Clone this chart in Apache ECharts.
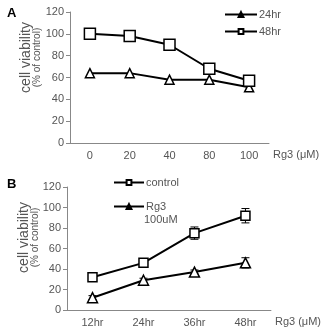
<!DOCTYPE html>
<html>
<head>
<meta charset="utf-8">
<script src="https://cdn.jsdelivr.net/npm/echarts@6/dist/echarts.min.js"></script>
<style>
html,body{margin:0;padding:0;background:#fff}
#main{width:322px;height:328px}
</style>
</head>
<body>
<div id="main"></div>
<script>
// panel A: dose
var doseCats = ['0', '20', '40', '80', '100'];
var hr24 = [64, 64, 58, 58, 51];
var hr48 = [100, 98, 90, 68, 57];
// panel B: time
var timeCats = ['12hr', '24hr', '36hr', '48hr'];
var control = [32, 46, 75, 92];
var controlErr = [2, 2, 6, 7];
var rg3 = [12, 29, 37, 46];
var rg3Err = [2, 2, 2, 5];

var font = 'Liberation Sans';
var grey = '#555';

function errBars(xIdx, yIdx, vals, errs) {
    var data = [];
    for (var i = 0; i < vals.length; i++) data.push([i, vals[i] - errs[i], vals[i] + errs[i]]);
    return {
        type: 'custom', xAxisIndex: xIdx, yAxisIndex: yIdx, z: 1,
        data: data,
        renderItem: function (params, api) {
            var lo = api.coord([api.value(0), api.value(1)]);
            var hi = api.coord([api.value(0), api.value(2)]);
            var w = 4;
            var st = {stroke: '#000', lineWidth: 1};
            return {type: 'group', children: [
                {type: 'line', shape: {x1: lo[0], y1: lo[1], x2: hi[0], y2: hi[1]}, style: st},
                {type: 'line', shape: {x1: lo[0] - w, y1: lo[1], x2: lo[0] + w, y2: lo[1]}, style: st},
                {type: 'line', shape: {x1: hi[0] - w, y1: hi[1], x2: hi[0] + w, y2: hi[1]}, style: st}
            ]};
        }
    };
}

function yAxis(gi, gap, shift) {
    return {
        type: 'value', gridIndex: gi, min: 0, max: 120, interval: 20,
        name: '{a|cell viability}\n{b|(% of control)}',
        nameLocation: 'middle', nameGap: gap, nameRotate: 90, nameMoveOverlap: false,
        nameTextStyle: {padding: [0, 0, 0, shift], rich: {
            a: {fontFamily: font, fontSize: 14, color: grey, lineHeight: 12},
            b: {fontFamily: font, fontSize: 10, color: grey, lineHeight: 10}
        }},
        axisLine: {show: true, lineStyle: {color: '#888'}},
        axisTick: {show: true, length: 4, lineStyle: {color: '#888'}},
        splitLine: {show: false},
        axisLabel: {fontFamily: font, fontSize: 11, color: grey, margin: 6}
    };
}

function xAxis(gi, cats) {
    return {
        type: 'category', gridIndex: gi, data: cats,
        name: 'Rg3 (μM)', nameLocation: 'end', nameGap: 4,
        nameTextStyle: {fontFamily: font, fontSize: 11, color: grey, verticalAlign: 'top', padding: [6, 0, 0, 0]},
        axisLine: {lineStyle: {color: '#888'}},
        axisTick: {length: 4, lineStyle: {color: '#888'}},
        axisLabel: {fontFamily: font, fontSize: 11, color: grey, margin: 7}
    };
}

var lineStyle = {color: '#000', width: 2};
var sym = {color: '#fff', borderColor: '#000', borderWidth: 1.5};

var option = {
    animation: false,
    title: [
        {text: 'A', left: 2, top: 2, textStyle: {fontFamily: font, fontSize: 13, fontWeight: 'bold', color: '#000'}},
        {text: 'B', left: 2, top: 173, textStyle: {fontFamily: font, fontSize: 13, fontWeight: 'bold', color: '#000'}}
    ],
    grid: [
        {left: 70, right: 53, top: 12, bottom: 185},
        {left: 67, right: 51, top: 187, bottom: 16}
    ],
    xAxis: [xAxis(0, doseCats), xAxis(1, timeCats)],
    yAxis: [yAxis(0, 28, 40), yAxis(1, 27, 22)],
    legend: [
        {
            orient: 'vertical', left: 224, top: 9, padding: 0, itemWidth: 32, itemHeight: 6, itemGap: 6,
            textStyle: {fontFamily: font, fontSize: 11, color: grey, padding: [0, 0, 0, -3]},
            data: [
                {name: '24hr', itemStyle: {color: '#000', borderColor: '#000'}},
                {name: '48hr', itemStyle: {color: '#fff', borderColor: '#000'}}
            ]
        },
        {
            orient: 'vertical', left: 113, top: 177, padding: 0, itemWidth: 30, itemHeight: 6, itemGap: 13,
            textStyle: {fontFamily: font, fontSize: 11, color: grey, padding: [0, 0, 0, -3]},
            data: [
                {name: 'control', itemStyle: {color: '#fff', borderColor: '#000'}},
                {name: 'Rg3', itemStyle: {color: '#000', borderColor: '#000'}}
            ]
        }
    ],
    graphic: [
        {type: 'text', left: 144, top: 214, style: {text: '100uM', fontFamily: font, fontSize: 11, fill: grey}}
    ],
    series: [
        {name: '24hr', type: 'line', xAxisIndex: 0, yAxisIndex: 0, data: hr24,
            symbol: 'triangle', symbolSize: 9, lineStyle: lineStyle, itemStyle: sym},
        {name: '48hr', type: 'line', xAxisIndex: 0, yAxisIndex: 0, data: hr48,
            symbol: 'rect', symbolSize: 11, lineStyle: lineStyle, itemStyle: sym},
        errBars(1, 1, control, controlErr),
        errBars(1, 1, rg3, rg3Err),
        {name: 'control', type: 'line', xAxisIndex: 1, yAxisIndex: 1, data: control, z: 3,
            symbol: 'rect', symbolSize: 9, lineStyle: lineStyle, itemStyle: sym},
        {name: 'Rg3', type: 'line', xAxisIndex: 1, yAxisIndex: 1, data: rg3, z: 3,
            symbol: 'triangle', symbolSize: 10, lineStyle: lineStyle, itemStyle: sym}
    ]
};

var chart = echarts.init(document.getElementById('main'));
chart.setOption(option);
</script>
</body>
</html>
